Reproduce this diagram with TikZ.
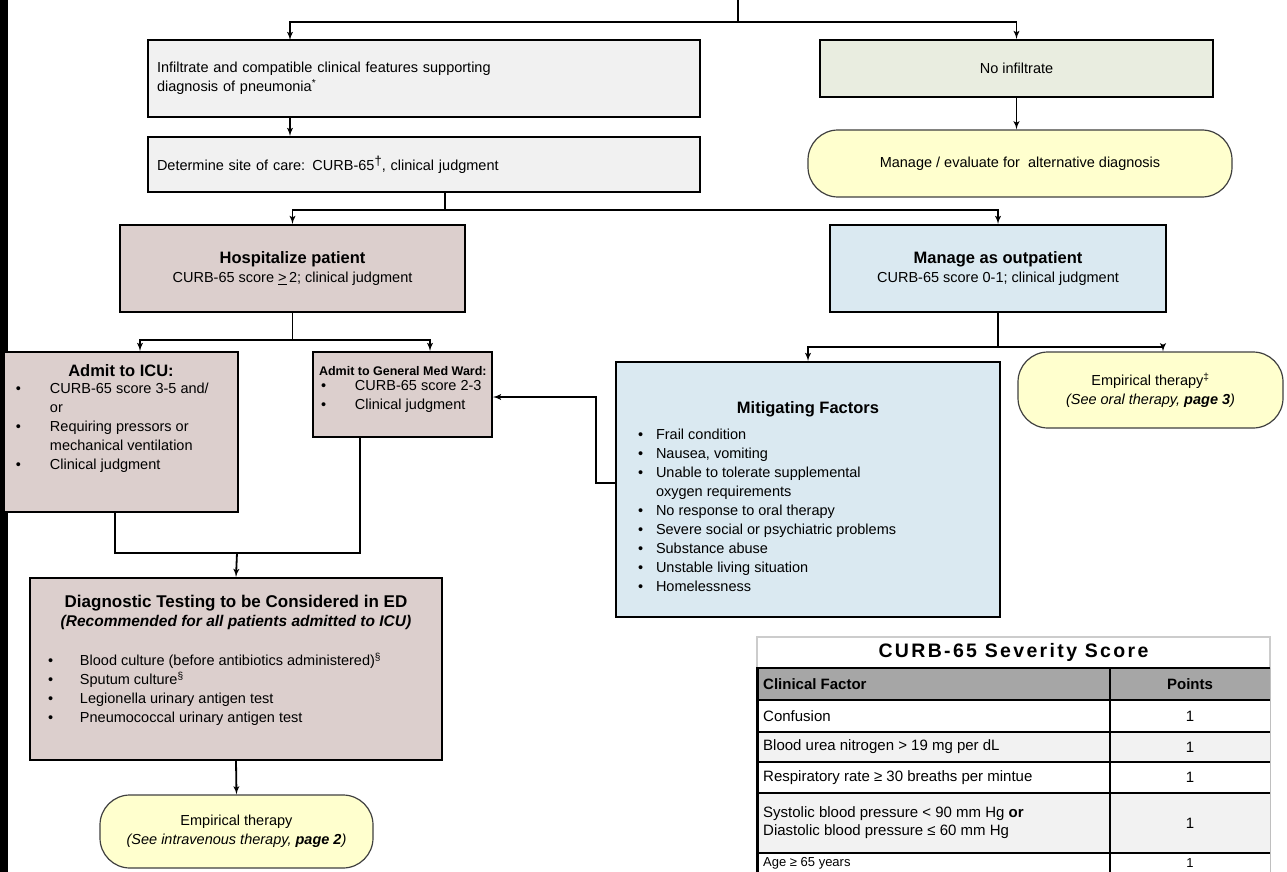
\documentclass[tikz,border=0pt]{standalone}
\usepackage{fontspec}
\setmainfont{Liberation Sans}
\usetikzlibrary{shapes, arrows}

\definecolor{infgrey}{RGB}{241,241,241}
\definecolor{noinfgreen}{RGB}{233,237,224}
\definecolor{inpink}{RGB}{220,207,205}
\definecolor{outblue}{RGB}{218,233,241}
\definecolor{rxyellow}{RGB}{255,255,206}
\definecolor{hdrgrey}{RGB}{166,166,166}
\definecolor{rowgrey}{RGB}{242,242,242}

\tikzstyle{block} = [rectangle, draw, line width=2pt, inner sep=0pt, align=center]
\tikzstyle{greyblock} = [block, fill=infgrey]
\tikzstyle{pinkblock} = [block, fill=inpink]
\tikzstyle{blueblock} = [block, fill=outblue]
\tikzstyle{therapy} = [rectangle, rounded corners=30pt, draw=black!75, line width=1.2pt,
    fill=rxyellow, align=center, inner sep=0pt]
\tikzstyle{line} = [draw, line width=1.8pt, -latex']
\tikzstyle{wire} = [draw, line width=1.8pt]
\tikzstyle{cell} = [anchor=west, inner sep=0pt, font=\fontsize{15}{18}\selectfont]
\tikzstyle{pts} = [inner sep=0pt, font=\fontsize{15}{18}\selectfont]

\newcommand{\boxtitle}[1]{{\fontsize{16.5}{20}\selectfont\bfseries #1}}
\newcommand{\topbox}[3]{\parbox[c][#2][t]{#1}{#3}}
\newcommand{\blt}{\textbullet}

\begin{document}
\begin{tikzpicture}[x=1pt, y=-1pt, font=\fontsize{14.5}{19}\selectfont]
    \useasboundingbox (0,0) rectangle (1287,872);
    \fill [black] (0,0) rectangle (8,872);
    % Place nodes
    \node [greyblock, minimum width=552pt, minimum height=77pt, text width=534pt, align=left] (infil) at (424,78.5)
        {Infiltrate and compatible clinical features supporting\\diagnosis of pneumonia\textsuperscript{*}};
    \node [greyblock, minimum width=552pt, minimum height=55pt, text width=534pt, align=left] (site) at (424,164.5)
        {Determine site of care: CURB-65\raisebox{5pt}{\fontsize{13}{13}\selectfont †}, clinical judgment};
    \node [block, fill=noinfgreen, minimum width=393pt, minimum height=57pt] (noinf) at (1016.5,68.5) {No infiltrate};
    \node [therapy, minimum width=424pt, minimum height=67pt] (altdx) at (1020,163.5)
        {Manage / evaluate for\ \ alternative diagnosis};
    \node [pinkblock, minimum width=345pt, minimum height=87pt] (hosp) at (292.5,268.5)
        {\boxtitle{Hospitalize patient}\\CURB-65 score \underline{>}\,2; clinical judgment};
    \node [blueblock, minimum width=336pt, minimum height=87pt] (outpt) at (998,268.5)
        {\boxtitle{Manage as outpatient}\\CURB-65 score 0-1; clinical judgment};
    \node [pinkblock] (icu) at (121,432) {\topbox{234pt}{160pt}{\vspace*{13pt}\centering
        \boxtitle{Admit to ICU:}\par\vspace{2pt}\raggedright
        \begin{tabular}{@{\hspace{12pt}}p{34pt}@{}l@{}}
        \blt & CURB-65 score 3-5 and/\\
             & or\\
        \blt & Requiring pressors or\\
             & mechanical ventilation\\
        \blt & Clinical judgment
        \end{tabular}}};
    \node [pinkblock] (ward) at (402.5,394.5) {\topbox{179pt}{85pt}{\vspace*{14pt}\raggedright
        \hspace*{6pt}{\fontsize{12.5}{16}\selectfont\bfseries Admit to General Med Ward:}\par\vspace{1pt}
        \begin{tabular}{@{\hspace{8pt}}p{34pt}@{}l@{}}
        \blt & CURB-65 score 2-3\\
        \blt & Clinical judgment
        \end{tabular}}};
    \node [blueblock] (mitig) at (808,489.5) {\topbox{384pt}{255pt}{\vspace*{40pt}\centering
        \boxtitle{Mitigating Factors}\par\vspace{8pt}\raggedright
        \begin{tabular}{@{\hspace{22pt}}p{18pt}@{}l@{}}
        \blt & Frail condition\\
        \blt & Nausea, vomiting\\
        \blt & Unable to tolerate supplemental\\
             & oxygen requirements\\
        \blt & No response to oral therapy\\
        \blt & Severe social or psychiatric problems\\
        \blt & Substance abuse\\
        \blt & Unstable living situation\\
        \blt & Homelessness
        \end{tabular}}};
    \node [therapy, minimum width=265pt, minimum height=76pt] (oralrx) at (1150.5,390)
        {Empirical therapy\textsuperscript{‡}\\\textit{(See oral therapy, \textbf{page 3})}};
    \node [pinkblock] (diag) at (236,669) {\topbox{412pt}{182pt}{\vspace*{17pt}\centering
        {\fontsize{17}{20}\selectfont\bfseries Diagnostic Testing to be Considered in ED}\\
        {\fontsize{15.5}{20}\selectfont\bfseries\itshape (Recommended for all patients admitted to ICU)}\par
        \vspace{22pt}\raggedright
        \begin{tabular}{@{\hspace{18pt}}p{32pt}@{}l@{}}
        \blt & Blood culture (before antibiotics administered)\textsuperscript{§}\\
        \blt & Sputum culture\textsuperscript{§}\\
        \blt & Legionella urinary antigen test\\
        \blt & Pneumococcal urinary antigen test
        \end{tabular}}};
    \node [therapy, minimum width=273pt, minimum height=73pt] (ivrx) at (236.5,831.5)
        {Empirical therapy\\\textit{(See intravenous therapy, \textbf{page 2})}};
    % Severity table
    \draw [draw=black!20, line width=1.5pt, fill=white] (757,637) rectangle (1270,668);
    \fill [hdrgrey] (757,668) rectangle (1270,700);
    \fill [rowgrey] (757,732) rectangle (1270,762);
    \fill [rowgrey] (757,793) rectangle (1270,853);
    \draw [line width=2.5pt] (757,668) -- (1270,668);
    \draw [line width=2.5pt] (757,700) -- (1270,700);
    \draw [line width=2.5pt] (757,732) -- (1270,732);
    \draw [line width=2.5pt] (757,762) -- (1270,762);
    \draw [line width=2.5pt] (757,793) -- (1270,793);
    \draw [line width=2.5pt] (757,853) -- (1270,853);
    \draw [line width=3pt] (757,667) -- (757,880);
    \draw [line width=2.5pt] (1110,667) -- (1110,880);
    \draw [black!25, line width=1pt] (1270,668) -- (1270,880);
    \node [font=\fontsize{19.5}{22}\selectfont\bfseries] (tbltitle) at (1013.5,652.5)
        {\addfontfeature{LetterSpace=12}CURB-65 Severity Score};
    \node [cell, font=\fontsize{15}{18}\selectfont\bfseries] (hdrfactor) at (763,684) {Clinical Factor};
    \node [pts, font=\fontsize{15}{18}\selectfont\bfseries] (hdrpoints) at (1190,684) {Points};
    \node [cell] (fconf) at (763,716) {Confusion};
    \node [pts] (pconf) at (1190,716) {1};
    \node [cell] (fbun) at (763,747) {Blood urea nitrogen > 19 mg per dL};
    \node [pts] (pbun) at (1190,747) {1};
    \node [cell] (fresp) at (763,777.5) {Respiratory rate ≥ 30 breaths per mintue};
    \node [pts] (presp) at (1190,777.5) {1};
    \node [cell, align=left] (fbp) at (763,823)
        {Systolic blood pressure < 90 mm Hg \textbf{or}\\Diastolic blood pressure ≤ 60 mm Hg};
    \node [pts] (pbp) at (1190,823) {1};
    \node [cell, font=\fontsize{13}{15}\selectfont] (fage) at (763,863.5) {Age ≥ 65 years};
    \node [pts, font=\fontsize{13}{15}\selectfont] (page) at (1190,863.5) {1};
    % Draw edges
    \coordinate (topin) at (738,0);
    \coordinate (topfork) at (738,22);
    \coordinate (infilin) at (290,40);
    \path [wire] (topin) -- (topfork);
    \path [line] (topfork) -| (infilin);
    \path [line] (topfork) -| (noinf.north);
    \path [line] (infilin |- infil.south) -- (infilin |- site.north);
    \path [line] (noinf.south) -- (noinf.south |- altdx.north);
    \coordinate (sitefork) at (445,210);
    \path [wire] (sitefork |- site.south) -- (sitefork);
    \path [line] (sitefork) -| (hosp.north);
    \path [line] (sitefork) -| (outpt.north);
    \coordinate (hospfork) at (292.5,340);
    \path [wire] (hosp.south) -- (hospfork);
    \path [line] (hospfork) -| ([xshift=19pt]icu.north);
    \path [line] (hospfork) -| ([xshift=27.5pt]ward.north);
    \coordinate (outfork) at (998,347);
    \path [wire] (outpt.south) -- (outfork);
    \path [line] (outfork) -| (mitig.north);
    \path [line] (outfork) -| ([xshift=12.5pt]oralrx.north);
    \path [line] ([yshift=6.5pt]mitig.west) -- ++(-19,0) |- ([yshift=-2.5pt]ward.east);
    \coordinate (joinfork) at (237,553);
    \path [wire] ([xshift=-6pt]icu.south) |- (joinfork);
    \path [wire] ([xshift=-42.5pt]ward.south) |- (joinfork);
    \path [line] (joinfork) -- (diag.north);
    \path [line] (diag.south) -- (ivrx.north);
\end{tikzpicture}
\end{document}
